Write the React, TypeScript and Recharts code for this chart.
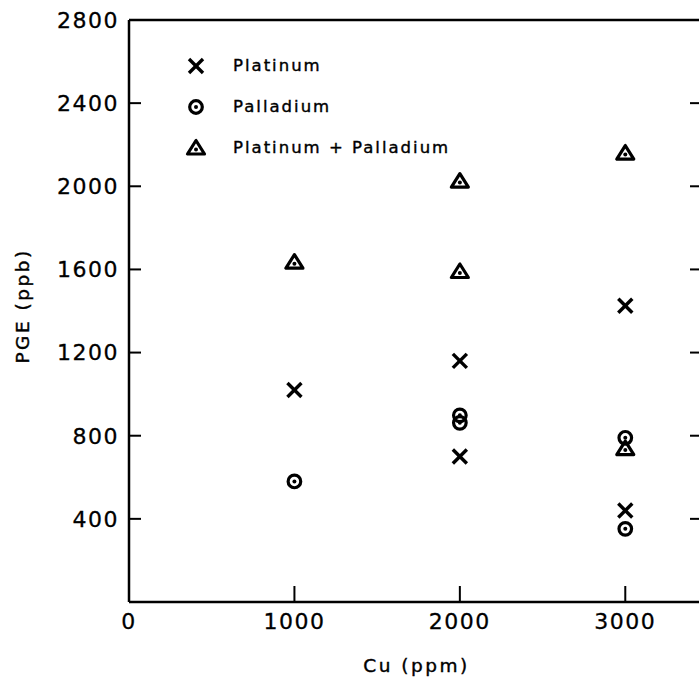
import React from 'react';
import { ScatterChart, Scatter, XAxis, YAxis, Legend, Label } from 'recharts';

// Cu (ppm) vs PGE (ppb)
const platinumCu = [1000, 2000, 2000, 3000, 3000];
const platinumPGE = [1020, 1160, 700, 1425, 440];

const palladiumCu = [1000, 2000, 2000, 3000, 3000];
const palladiumPGE = [580, 898, 862, 790, 352];

const ptPdCu = [1000, 2000, 2000, 3000, 3000];
const ptPdPGE = [1635, 2025, 1590, 2160, 738];

const xTicks = [0, 1000, 2000, 3000];
const topTicks = [1000, 2000, 3000];
const yTicks = [400, 800, 1200, 1600, 2000, 2400, 2800];
const rightTicks = [400, 800, 1200, 1600, 2000, 2400];

const toPoints = (xs: number[], ys: number[]) => xs.map((cu, i) => ({ cu, pge: ys[i] }));

const platinum = toPoints(platinumCu, platinumPGE);
const palladium = toPoints(palladiumCu, palladiumPGE);
const ptPd = toPoints(ptPdCu, ptPdPGE);

const FONT = '"DejaVu Sans", Verdana, sans-serif';
const INK = '#000';

const Cross = ({ cx, cy }: any) => (
  <g stroke={INK} strokeWidth={3.4} fill="none">
    <line x1={cx - 7} y1={cy - 7} x2={cx + 7} y2={cy + 7} />
    <line x1={cx - 7} y1={cy + 7} x2={cx + 7} y2={cy - 7} />
  </g>
);

const Ring = ({ cx, cy }: any) => (
  <g>
    <circle cx={cx} cy={cy} r={6.3} stroke={INK} strokeWidth={3.2} fill="none" />
    <circle cx={cx} cy={cy} r={2} fill={INK} />
  </g>
);

const Tri = ({ cx, cy }: any) => (
  <g>
    <polygon
      points={`${cx},${cy - 7.5} ${cx - 8.5},${cy + 6} ${cx + 8.5},${cy + 6}`}
      stroke={INK}
      strokeWidth={3.2}
      strokeLinejoin="round"
      fill="none"
    />
    <circle cx={cx} cy={cy + 1.5} r={2} fill={INK} />
  </g>
);

const legendItems = [
  { name: 'Platinum', Icon: Cross },
  { name: 'Palladium', Icon: Ring },
  { name: 'Platinum + Palladium', Icon: Tri },
];

const renderLegend = () => (
  <div style={{ fontFamily: FONT }}>
    {legendItems.map(({ name, Icon }) => (
      <div key={name} style={{ display: 'flex', alignItems: 'center', height: 41 }}>
        <svg width={22} height={22} style={{ display: 'block' }}>
          <Icon cx={11} cy={11} />
        </svg>
        <span
          style={{
            marginLeft: 26,
            fontSize: 16.5,
            letterSpacing: 2,
            color: INK,
            WebkitTextStroke: '0.4px #000',
          }}
        >
          {name}
        </span>
      </div>
    ))}
  </div>
);

const tickStyle = {
  fill: INK,
  fontSize: 22,
  fontFamily: FONT,
  letterSpacing: 1.5,
  stroke: INK,
  strokeWidth: 0.3,
};
const blank = () => '';

export default function App() {
  return (
    <div style={{ position: 'absolute', left: 0, top: 0, width: 699, height: 677, overflow: 'hidden', background: '#fff' }}>
      <ScatterChart width={724} height={677} margin={{ top: 0, right: 0, bottom: 0, left: 0 }}>
        <XAxis
          xAxisId="bottom"
          dataKey="cu"
          type="number"
          domain={[0, 3500]}
          allowDataOverflow
          ticks={xTicks}
          height={75}
          axisLine={{ stroke: INK, strokeWidth: 2.5 }}
          tickLine={{ stroke: INK, strokeWidth: 2 }}
          tickSize={-16}
          tickMargin={27}
          tick={tickStyle}
        >
          <Label
            content={(p: any) => (
              <text
                x={p.viewBox.x + p.viewBox.width / 2 - 2}
                y={p.viewBox.y + 63}
                textAnchor="middle"
                dominantBaseline="central"
                fontFamily={FONT}
                fontSize={18.5}
                letterSpacing={2.5}
                fill={INK}
                stroke={INK}
                strokeWidth={0.4}
              >
                Cu (ppm)
              </text>
            )}
          />
        </XAxis>
        <XAxis
          xAxisId="top"
          orientation="top"
          type="number"
          domain={[0, 3500]}
          allowDataOverflow
          ticks={topTicks}
          height={20}
          axisLine={{ stroke: INK, strokeWidth: 2.5 }}
          tickLine={{ stroke: INK, strokeWidth: 2 }}
          tickSize={-15}
          tickFormatter={blank}
        />
        <YAxis
          yAxisId="left"
          dataKey="pge"
          type="number"
          domain={[0, 2800]}
          allowDataOverflow
          ticks={yTicks}
          width={129}
          axisLine={{ stroke: INK, strokeWidth: 2.5 }}
          tickLine={{ stroke: INK, strokeWidth: 2 }}
          tickSize={-12}
          tickMargin={22}
          tick={tickStyle}
        >
          <Label
            content={(p: any) => {
              const x = p.viewBox.x + 22;
              const y = p.viewBox.y + p.viewBox.height / 2 - 5;
              return (
                <text
                  x={x}
                  y={y}
                  transform={`rotate(-90, ${x}, ${y})`}
                  textAnchor="middle"
                  dominantBaseline="central"
                  fontFamily={FONT}
                  fontSize={18.5}
                  letterSpacing={2.5}
                  fill={INK}
                  stroke={INK}
                  strokeWidth={0.4}
                >
                  PGE (ppb)
                </text>
              );
            }}
          />
        </YAxis>
        <YAxis
          yAxisId="right"
          orientation="right"
          type="number"
          domain={[0, 2800]}
          allowDataOverflow
          ticks={rightTicks}
          width={16}
          axisLine={{ stroke: INK, strokeWidth: 2.5 }}
          tickLine={{ stroke: INK, strokeWidth: 2 }}
          tickSize={-18}
          tickFormatter={blank}
        />
        <Legend
          layout="vertical"
          align="center"
          verticalAlign="middle"
          wrapperStyle={{ left: 185, top: 45, width: 330, height: 125 }}
          content={renderLegend}
        />
        <Scatter name="Platinum" data={platinum} xAxisId="bottom" yAxisId="left" shape={Cross} isAnimationActive={false} />
        <Scatter name="Palladium" data={palladium} xAxisId="bottom" yAxisId="left" shape={Ring} isAnimationActive={false} />
        <Scatter name="Platinum + Palladium" data={ptPd} xAxisId="bottom" yAxisId="left" shape={Tri} isAnimationActive={false} />
      </ScatterChart>
    </div>
  );
}
